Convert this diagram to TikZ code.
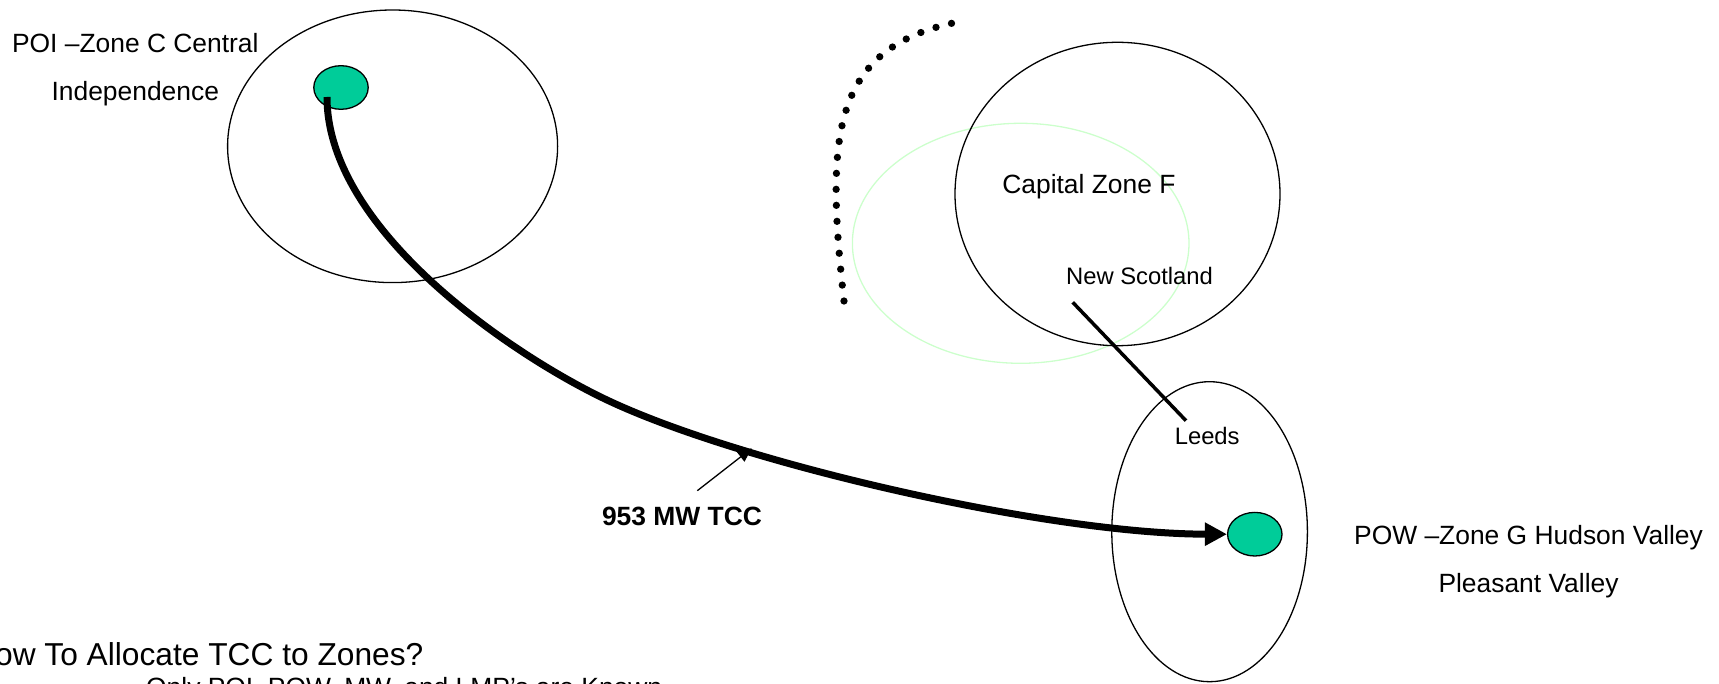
\documentclass[tikz,border=0pt]{standalone}
\usepackage{fontspec}
\setmainfont{Liberation Sans}
\usetikzlibrary{arrows.meta,shapes.geometric}
\definecolor{busgreen}{RGB}{0,204,153}
\definecolor{halogreen}{RGB}{204,255,204}
\tikzset{
  zone/.style={line width=1.3pt},
  busdot/.style={ellipse, draw, line width=1.3pt, fill=busgreen, minimum width=54.4pt, minimum height=43.6pt, inner sep=0pt},
  lbl/.style={inner sep=0pt, anchor=base, font=\fontsize{26.4}{30}\selectfont},
  smalllbl/.style={inner sep=0pt, anchor=base, font=\fontsize{23.8}{28}\selectfont},
}

\begin{document}
\begin{tikzpicture}[x=1pt,y=-1pt]
			%%%%% START %%%%%
			\useasboundingbox (0,0) rectangle (1719,684);
			\clip (0,0) rectangle (1719,684);
			
			\draw[zone] (392.6,146.3) ellipse [x radius=165, y radius=136.3];
			\draw[line width=1.3pt, color=halogreen] (1020.7,243.3) ellipse [x radius=168.3, y radius=120];
			\draw[zone] (1117.5,194) ellipse [x radius=162.5, y radius=151.7];
			\draw[zone] (1209.6,531.7) ellipse [x radius=97.8, y radius=150];
			
			\draw[line width=7.3pt, line cap=round, dash pattern=on 0pt off 16pt] (844,301) .. controls (826,140) and (830,50) .. (953,23);
			
			\node[busdot] (poidot) at (341,87.5) {};
			\node[busdot] (powdot) at (1254.8,534.2) {};
			
			\node[lbl] (poi) at (135.3,53) {POI –Zone C Central};
			\node[lbl] (indep) at (135.3,100.5) {Independence};
			\node[lbl] (capital) at (1088.9,193.3) {Capital Zone F};
			\node[smalllbl] (nscot) at (1139.5,285) {New Scotland};
			\node[smalllbl] (leeds) at (1207.2,445) {Leeds};
			\node[lbl, font=\fontsize{26.4}{30}\selectfont\bfseries] (tcc) at (682,525) {953 MW TCC};
			\node[lbl] (pow) at (1528.5,544.3) {POW –Zone G Hudson Valley};
			\node[lbl] (pleasant) at (1528.5,592) {Pleasant Valley};
			
			\node[lbl, anchor=base east, font=\fontsize{31.7}{36}\selectfont] (question) at (423.5,665) {How To Allocate TCC to Zones?};
			\node[lbl, anchor=base west] (known) at (146,696.6) {Only POI, POW, MW, and LMP’s are Known};
			
			\coordinate (tccstart) at (327,97);
			\draw[line width=7pt, -{Triangle[length=22pt,width=22pt]}] (tccstart) .. controls (327,230) and (512,355) .. (607,400) .. controls (742.6,464.2) and (1050,534) .. (powdot.west);
			
			\coordinate (ptrtail) at (697.3,490.7);
			\coordinate (ptrtip) at (751.7,448.3);
			\draw[line width=1.3pt, -{Triangle[length=14pt,width=12pt]}] (ptrtail) -- (ptrtip);
			
			\coordinate (nsend) at (1072.7,302.3);
			\coordinate (leedsend) at (1186,420.7);
			\draw[line width=3.5pt] (nsend) -- (leedsend);
			
			%%%%% END %%%%%
\end{tikzpicture}
\end{document}
